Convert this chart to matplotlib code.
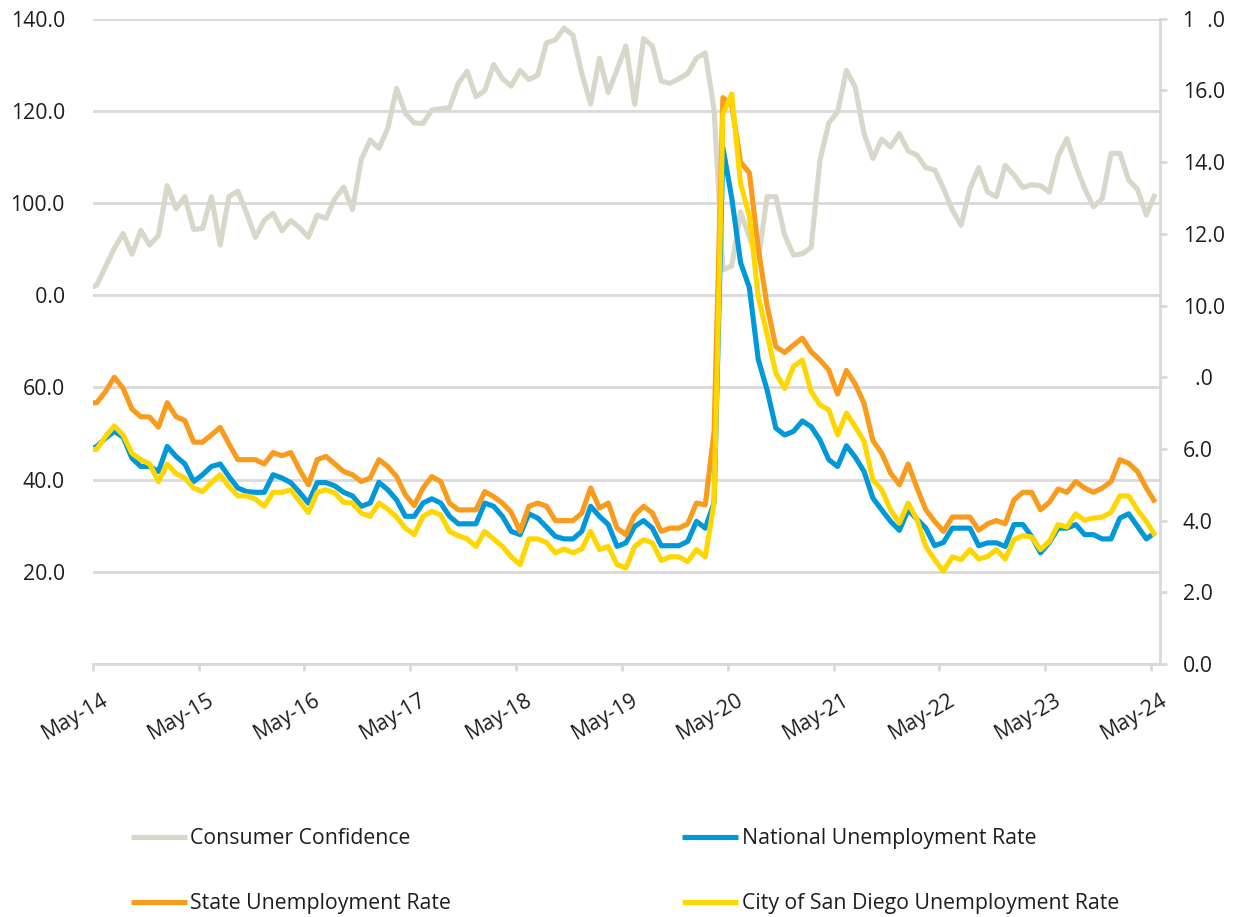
import numpy as np
import matplotlib
matplotlib.use('Agg')
import matplotlib.pyplot as plt
import matplotlib.transforms as mtransforms

plt.rcParams['font.family'] = ['Open Sans', 'DejaVu Sans']

# Monthly values, Apr-14 (sits just left of the axis) through May-24
consumer_confidence = [
    81.4,
    82.2, 86.2, 90.2, 93.4, 88.9, 94.1, 90.9, 93.0, 103.8, 98.8,
    101.4, 94.3, 94.5, 101.4, 90.9, 101.4, 102.6, 97.8, 92.6, 96.3,
    97.8, 94.0, 96.2, 94.7, 92.6, 97.4, 96.7, 101.0, 103.5, 98.6,
    109.5, 113.7, 111.9, 116.2, 124.9, 119.5, 117.4, 117.3, 120.2, 120.5,
    120.7, 126.0, 128.6, 123.1, 124.4, 130.1, 127.0, 125.4, 128.8, 126.8,
    127.8, 134.8, 135.4, 138.0, 136.4, 128.1, 121.5, 131.4, 124.0, 129.0,
    134.1, 121.4, 135.7, 134.1, 126.5, 126.0, 127.0, 128.1, 131.5, 132.6,
    120.2, 85.5, 86.4, 98.1, 92.5, 87.5, 101.4, 101.4, 93.1, 88.7,
    89.0, 90.4, 109.3, 117.4, 119.8, 128.8, 125.1, 115.1, 109.7, 113.9,
    112.2, 115.1, 111.3, 110.4, 107.7, 107.2, 103.2, 98.5, 95.2, 103.2,
    107.7, 102.4, 101.4, 108.2, 106.1, 103.4, 104.0, 103.8, 102.4, 110.2,
    114.0, 108.2, 103.2, 99.2, 101.0, 110.8, 110.8, 105.0, 103.0, 97.4, 102.0,
]

national_rate = [
    5.95,
    6.07, 6.30, 6.49, 6.33, 5.74, 5.51, 5.51, 5.37, 6.07, 5.79,
    5.58, 5.09, 5.28, 5.51, 5.58, 5.23, 4.91, 4.81, 4.79, 4.79,
    5.28, 5.19, 5.06, 4.79, 4.49, 5.06, 5.06, 4.97, 4.79, 4.69,
    4.40, 4.49, 5.07, 4.86, 4.58, 4.12, 4.12, 4.49, 4.61, 4.49,
    4.12, 3.91, 3.91, 3.91, 4.49, 4.40, 4.12, 3.70, 3.61, 4.19,
    4.07, 3.82, 3.56, 3.49, 3.49, 3.70, 4.40, 4.12, 3.89, 3.28,
    3.38, 3.84, 4.00, 3.79, 3.30, 3.30, 3.30, 3.42, 3.98, 3.79,
    4.50, 14.40, 13.00, 11.20, 10.50, 8.50, 7.65, 6.58, 6.39, 6.49,
    6.78, 6.62, 6.25, 5.70, 5.51, 6.09, 5.77, 5.37, 4.63, 4.30,
    3.98, 3.73, 4.30, 4.04, 3.79, 3.30, 3.39, 3.79, 3.79, 3.79,
    3.30, 3.38, 3.38, 3.28, 3.89, 3.89, 3.56, 3.10, 3.39, 3.79,
    3.79, 3.89, 3.61, 3.61, 3.49, 3.49, 4.07, 4.19, 3.84, 3.49, 3.67,
]

state_rate = [
    7.29,
    7.29, 7.60, 8.00, 7.69, 7.11, 6.90, 6.89, 6.61, 7.29, 6.90,
    6.79, 6.19, 6.19, 6.39, 6.60, 6.14, 5.70, 5.70, 5.70, 5.58,
    5.90, 5.81, 5.90, 5.42, 5.00, 5.70, 5.79, 5.58, 5.37, 5.28,
    5.09, 5.19, 5.70, 5.51, 5.23, 4.72, 4.42, 4.91, 5.23, 5.09,
    4.49, 4.30, 4.30, 4.30, 4.81, 4.67, 4.49, 4.23, 3.70, 4.40,
    4.49, 4.40, 4.00, 4.00, 4.00, 4.21, 4.91, 4.35, 4.49, 3.79,
    3.61, 4.16, 4.40, 4.21, 3.70, 3.79, 3.79, 3.91, 4.49, 4.44,
    6.50, 15.80, 15.60, 14.00, 13.70, 11.60, 10.00, 8.85, 8.69, 8.90,
    9.09, 8.71, 8.48, 8.20, 7.53, 8.19, 7.81, 7.27, 6.23, 5.88,
    5.33, 5.00, 5.58, 4.91, 4.30, 3.98, 3.70, 4.10, 4.10, 4.10,
    3.73, 3.91, 4.00, 3.91, 4.58, 4.79, 4.79, 4.30, 4.51, 4.88,
    4.79, 5.09, 4.91, 4.79, 4.91, 5.09, 5.70, 5.60, 5.37, 4.91, 4.51,
]

san_diego_rate = [
    5.99,
    5.99, 6.35, 6.64, 6.39, 5.88, 5.70, 5.58, 5.09, 5.58, 5.31,
    5.19, 4.91, 4.81, 5.06, 5.28, 4.95, 4.69, 4.69, 4.60, 4.40,
    4.79, 4.79, 4.86, 4.54, 4.23, 4.79, 4.86, 4.77, 4.51, 4.49,
    4.21, 4.12, 4.49, 4.32, 4.10, 3.79, 3.61, 4.12, 4.26, 4.16,
    3.70, 3.58, 3.49, 3.28, 3.70, 3.49, 3.28, 2.99, 2.77, 3.49,
    3.49, 3.39, 3.10, 3.21, 3.10, 3.21, 3.70, 3.19, 3.28, 2.77,
    2.68, 3.28, 3.47, 3.38, 2.89, 2.99, 2.99, 2.86, 3.19, 2.99,
    4.50, 15.35, 15.90, 13.40, 12.50, 10.25, 9.20, 8.11, 7.69, 8.30,
    8.48, 7.60, 7.23, 7.09, 6.39, 7.00, 6.62, 6.21, 5.14, 4.86,
    4.30, 3.93, 4.49, 4.03, 3.28, 2.91, 2.59, 2.99, 2.91, 3.19,
    2.93, 3.00, 3.19, 2.93, 3.47, 3.58, 3.54, 3.19, 3.42, 3.89,
    3.82, 4.19, 4.01, 4.07, 4.10, 4.23, 4.69, 4.69, 4.30, 3.98, 3.58,
]

x_tick_labels = ['May-14', 'May-15', 'May-16', 'May-17', 'May-18', 'May-19',
                 'May-20', 'May-21', 'May-22', 'May-23', 'May-24']
left_tick_values = [0, 20, 40, 60, 80, 100, 120, 140]
left_tick_labels = ['', '20.0', '40.0', '60.0', '\u20070.0', '100.0', '120.0', '140.0']
right_tick_values = [0, 2, 4, 6, 8, 10, 12, 14, 16, 18]
right_tick_labels = ['0.0', '2.0', '4.0', '6.0', '\u2007.0', '10.0', '12.0', '14.0',
                     '16.0', '1\u2007.0']
series_names = ['Consumer Confidence', 'National Unemployment Rate',
                'State Unemployment Rate', 'City of San Diego Unemployment Rate']

C_GRAY = '#D9D6CA'
C_BLUE = '#0098D8'
C_ORANGE = '#F99B1C'
C_YELLOW = '#FFD700'
C_GRID = '#D9D9D9'
C_TEXT = '#1E1E1E'

n = len(consumer_confidence)
# month index relative to May-14 (first entry is Apr-14), plotted mid-month
x = np.arange(n) - 1 + 0.45

fig = plt.figure(figsize=(12.33, 9.17), dpi=100)
W, H = 1233, 917
ax = fig.add_axes([92.7 / W, 1 - 664 / H, (1160 - 92.7) / W, (664 - 18.8) / H])
ax2 = ax.twinx()

lw = 3.7
h_cc, = ax.plot(x, consumer_confidence, color=C_GRAY, lw=lw,
                solid_joinstyle='round', solid_capstyle='butt', label=series_names[0])
h_nat, = ax2.plot(x, national_rate, color=C_BLUE, lw=lw,
                  solid_joinstyle='round', solid_capstyle='butt', label=series_names[1])
h_st, = ax2.plot(x, state_rate, color=C_ORANGE, lw=lw,
                 solid_joinstyle='round', solid_capstyle='butt', label=series_names[2])
h_sd, = ax2.plot(x, san_diego_rate, color=C_YELLOW, lw=lw,
                 solid_joinstyle='round', solid_capstyle='butt', label=series_names[3])

ax.set_xlim(0, 121)
ax.set_ylim(0, 140)
ax2.set_ylim(0, 18)

ax.set_yticks(left_tick_values)
ax.set_yticklabels(left_tick_labels)
ax2.set_yticks(right_tick_values)
ax2.set_yticklabels(right_tick_labels)

ax.set_xticks(np.arange(0, 121, 12))
ax.set_xticklabels(x_tick_labels)

ax.yaxis.grid(True, color=C_GRID, lw=2)
ax.set_axisbelow(True)

for s in ['left', 'top', 'right']:
    ax.spines[s].set_visible(False)
ax.spines['bottom'].set_color(C_GRID)
ax.spines['bottom'].set_linewidth(2)
for s in ['left', 'top', 'bottom']:
    ax2.spines[s].set_visible(False)
ax2.spines['right'].set_color(C_GRID)
ax2.spines['right'].set_linewidth(2)

ax.tick_params(axis='y', length=0, pad=20, labelsize=15.3, labelcolor=C_TEXT)
ax.tick_params(axis='x', length=5, width=2, color=C_GRID, pad=13.5,
               labelsize=15.3, labelcolor=C_TEXT)
ax2.tick_params(axis='y', length=5, width=2, color=C_GRID, pad=11.5,
                labelsize=15.3, labelcolor=C_TEXT)

shift = mtransforms.ScaledTranslation(9 / 100, 0, fig.dpi_scale_trans)
for lab in ax.get_xticklabels():
    lab.set_rotation(30)
    lab.set_ha('right')
    lab.set_va('top')
    lab.set_rotation_mode('anchor')
    lab.set_transform(lab.get_transform() + shift)

fig.legend(handles=[h_cc, h_st, h_nat, h_sd], ncol=2,
           loc='upper left', bbox_to_anchor=(131 / W, 1 - 828 / H),
           bbox_transform=fig.transFigure, frameon=False, fontsize=15.3,
           borderpad=0, borderaxespad=0, handlelength=2.64, handletextpad=0.15,
           columnspacing=10.88, labelspacing=2.09, labelcolor=C_TEXT)

fig.savefig('out.png', dpi=100)
